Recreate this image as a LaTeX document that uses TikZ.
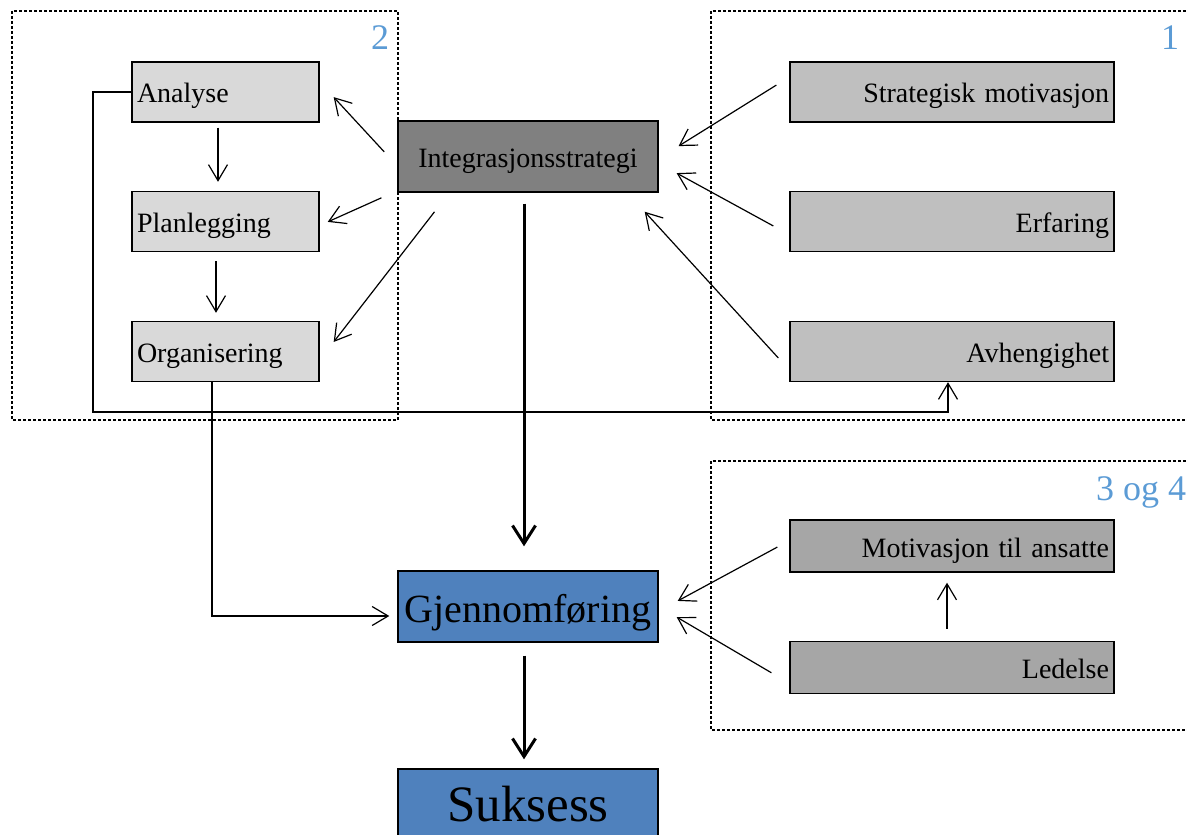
\documentclass[tikz,border=0pt]{standalone}
\usepackage{fontspec}
\setmainfont{Liberation Serif}
\usepackage{tikz}
\usetikzlibrary{positioning,arrows.meta}
\definecolor{lightbox}{HTML}{D9D9D9}
\definecolor{midbox}{HTML}{BFBFBF}
\definecolor{darkbox}{HTML}{A6A6A6}
\definecolor{corebox}{HTML}{808080}
\definecolor{goalblue}{HTML}{4F81BD}
\definecolor{tagblue}{HTML}{5B9BD5}

\begin{document}
\begin{tikzpicture}[
    x=0.5pt, y=-0.5pt,
    >={Straight Barb[length=8pt,width=9.5pt]},
    box/.style={rectangle, draw, line width=0.7pt, inner xsep=2.5pt, text height=12pt, text depth=1pt, font=\fontsize{14}{16}\selectfont},
    lbox/.style={box, fill=lightbox, minimum height=30pt, text width=88.5pt, align=left},
    rbox/.style={box, fill=midbox, minimum height=30pt, text width=157pt, align=right},
    sbox/.style={box, fill=darkbox, minimum height=26pt, text width=157pt, align=right},
    core/.style={box, fill=corebox, minimum width=130pt, minimum height=35.5pt},
    goal/.style={rectangle, draw, line width=0.7pt, fill=goalblue, minimum width=130pt, minimum height=35.5pt, inner ysep=1pt},
    frame/.style={line width=0.6pt, dash pattern=on 1.5pt off 1pt},
    tag/.style={text=tagblue, font=\fontsize{18}{20}\selectfont, inner sep=0pt},
    link/.style={->, line width=0.6pt},
    flow/.style={-{Straight Barb[length=9pt,width=11.5pt]}, line width=1.5pt},
]
\useasboundingbox (0,0) rectangle (1186,834);

% dotted groups
\draw[frame] (12,11) rectangle (398,420);
\draw[frame] (711,11) rectangle (1192,420);
\draw[frame] (711,461) rectangle (1192,730);
\node[tag] (tag2) at (380,38) {2};
\node[tag] (tag1) at (1170,38) {1};
\node[tag] (tag34) at (1141,492) {3 og 4};

% left column
\node[lbox] (analyse) at (225.5,92) {Analyse};
\node[lbox] (plan) at (225.5,221.5) {Planlegging};
\node[lbox] (organ) at (225.5,351.5) {Organisering};

% centre
\node[core] (integ) at (528,156.5) {Integrasjonsstrategi};
\node[goal, font=\fontsize{20}{22}\selectfont, text height=16pt, text depth=0.5pt] (gjen) at (528,606.5) {Gjennomføring};
\node[goal, font=\fontsize{25.5}{28}\selectfont, text height=17pt, text depth=0.5pt] (suks) at (528,804.5) {Suksess};

% right column
\node[rbox] (strat) at (952,92) {Strategisk motivasjon};
\node[rbox] (erf) at (952,221.5) {Erfaring};
\node[rbox] (avh) at (952,351.5) {Avhengighet};
\node[sbox] (motiv) at (952,546) {Motivasjon til ansatte};
\node[sbox] (led) at (952,667.5) {Ledelse};

\coordinate (loop) at (93,412);

% strategy to group 2
\draw[link, shorten <=9.6pt, shorten >=10.3pt] ([yshift=-4.75pt]integ.west) -- ([yshift=5pt]analyse.east);
\draw[link, shorten <=8.7pt, shorten >=4.4pt] ([yshift=1pt]integ.south west) -- ([yshift=-2pt]plan.east);
\draw[link, shorten <=12.1pt, shorten >=11.4pt] ([xshift=26pt]integ.south west) -- ([yshift=-4.25pt]organ.east);
\draw[link, shorten <=2.5pt, shorten >=4.5pt] ([xshift=-3.75pt]analyse.south) -- ([xshift=-3.75pt]plan.north);
\draw[link, shorten <=4.5pt, shorten >=4pt] ([xshift=-4.75pt]plan.south) -- ([xshift=-4.75pt]organ.north);

% group 1 to strategy
\draw[link, shorten <=7.6pt, shorten >=11.7pt] ([yshift=7.5pt]strat.west) -- ([yshift=-1pt]integ.east);
\draw[link, shorten <=9.1pt, shorten >=10.2pt] ([yshift=-6.6pt]erf.west) -- ([yshift=-3.4pt]integ.east);
\draw[link, shorten <=8.1pt, shorten >=12.9pt] ([yshift=-9.25pt]avh.west) -- ([xshift=-15.7pt]integ.south east);

% feedback and execution
\draw[link] (analyse.west) -| (loop) -| ([xshift=-2pt]avh.south);
\draw[link, shorten >=4pt] ([xshift=-6.75pt]organ.south) |- ([yshift=-4.75pt]gjen.west);
\draw[flow, shorten <=5.5pt, shorten >=12pt] ([xshift=-2pt]integ.south) -- ([xshift=-2pt]gjen.north);
\draw[flow, shorten <=6.5pt, shorten >=4.5pt] ([xshift=-2pt]gjen.south) -- ([xshift=-2pt]suks.north);

% group 3 og 4
\draw[link, shorten <=6.8pt, shorten >=10.8pt] ([yshift=2.7pt]motiv.west) -- ([yshift=-2.35pt]gjen.east);
\draw[link, shorten <=10.4pt, shorten >=10.4pt] ([yshift=-7.9pt]led.west) -- (gjen.east);
\draw[link, shorten <=6pt, shorten >=5pt] ([xshift=-2.5pt]led.north) -- ([xshift=-2.5pt]motiv.south);
\end{tikzpicture}
\end{document}
